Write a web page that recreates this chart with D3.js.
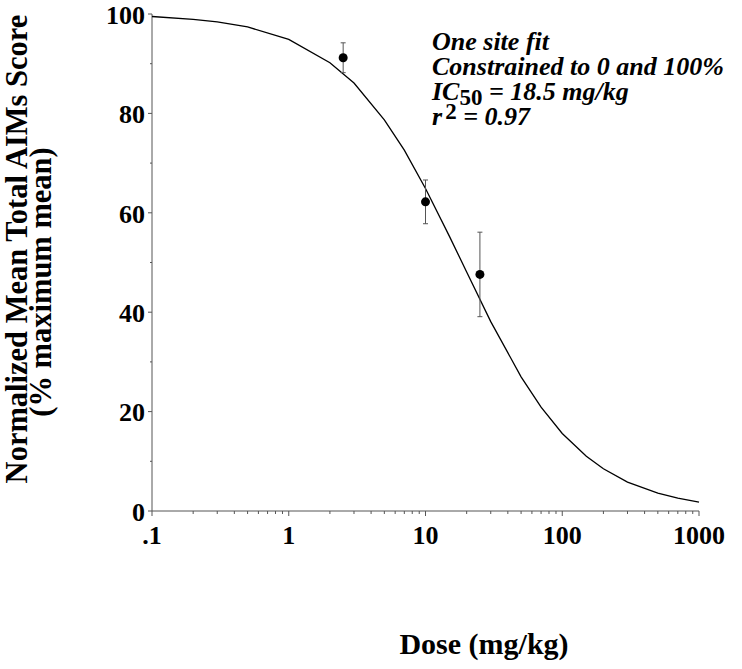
<!DOCTYPE html>
<html>
<head>
<meta charset="utf-8">
<script src="https://cdn.jsdelivr.net/npm/d3@7"></script>
<style>
  body { margin: 0; background: #fff; }
  text { font-family: "Liberation Serif", "Times New Roman", Times, serif; }
</style>
</head>
<body>
<svg width="742" height="669"></svg>
<script>
// measured points (dose mg/kg, % of max mean, SEM)
const doses = [2.5, 10, 25]
const means = [91.2, 62.2, 47.6]
const errs = [3.0, 4.4, 8.5]

// fitted curve as drawn
const curveDoses = [0.1, 0.2, 0.3, 0.5, 1, 2, 3, 5, 7, 10, 15, 20, 30, 50, 70, 100, 150, 200, 300, 500, 700, 1000]
const curveVals = [99.5, 98.9, 98.4, 97.4, 94.9, 90.2, 86.1, 78.7, 72.6, 64.9, 55.2, 48.1, 38.1, 27.0, 20.9, 15.6, 11.0, 8.5, 5.8, 3.6, 2.6, 1.8]

const xTicks = [0.1, 1, 10, 100, 1000]
const xTickLabels = [".1", "1", "10", "100", "1000"]
const yTicks = [0, 20, 40, 60, 80, 100]
const yMinor = [10, 30, 50, 70, 90]

const notes = ["One site fit", "Constrained to 0 and 100%", "IC|50| = 18.5 mg/kg", "r|2| = 0.97"]

const FONT = "Liberation Serif"

const svg = d3.select("svg"),
    margin = {top: 14, left: 152, right: 43, bottom: 158},
    width = +svg.attr("width") - margin.left - margin.right,
    height = +svg.attr("height") - margin.top - margin.bottom

const x = d3.scaleLog().domain([0.1, 1000]).range([0, width])
const y = d3.scaleLinear().domain([0, 100]).range([height, 0])

const g = svg.append("g")
  .attr("transform", "translate(" + margin.left + "," + margin.top + ")")

// minor x ticks 2..9 per decade
const xMinor = []
for (let d = 0.1; d < 1000; d *= 10)
  for (let k = 2; k <= 9; k++) xMinor.push(+(d * k).toPrecision(3))

const axisColor = "#555"

// X axis
g.append("line")
  .attr("x1", 0).attr("x2", width)
  .attr("y1", height).attr("y2", height)
  .attr("stroke", axisColor)
g.selectAll(".xminor").data(xMinor).enter().append("line")
  .attr("x1", d => x(d)).attr("x2", d => x(d))
  .attr("y1", height).attr("y2", height + 3)
  .attr("stroke", axisColor)
g.selectAll(".xmajor").data(xTicks).enter().append("line")
  .attr("x1", d => x(d)).attr("x2", d => x(d))
  .attr("y1", height).attr("y2", height + 5)
  .attr("stroke", axisColor)
g.selectAll(".xlab").data(xTicks).enter().append("text")
  .attr("x", d => x(d))
  .attr("y", height + 33)
  .attr("text-anchor", "middle")
  .attr("font-family", FONT)
  .attr("font-size", 26)
  .attr("font-weight", "bold")
  .text((d, i) => xTickLabels[i])

// Y axis
g.append("line")
  .attr("x1", 0).attr("x2", 0)
  .attr("y1", 0).attr("y2", height)
  .attr("stroke", axisColor)
g.selectAll(".ymajor").data(yTicks).enter().append("line")
  .attr("x1", -4).attr("x2", 0)
  .attr("y1", d => y(d)).attr("y2", d => y(d))
  .attr("stroke", axisColor)
g.selectAll(".yminor").data(yMinor).enter().append("line")
  .attr("x1", -2).attr("x2", 0)
  .attr("y1", d => y(d)).attr("y2", d => y(d))
  .attr("stroke", axisColor)
g.selectAll(".ylab").data(yTicks).enter().append("text")
  .attr("x", -7)
  .attr("y", d => y(d))
  .attr("dy", "0.38em")
  .attr("text-anchor", "end")
  .attr("font-family", FONT)
  .attr("font-size", 26)
  .attr("font-weight", "bold")
  .text(d => d)

// fitted curve
const line = d3.line()
  .x(d => x(d[0]))
  .y(d => y(d[1]))
g.append("path")
  .datum(curveDoses.map((d, i) => [d, curveVals[i]]))
  .attr("fill", "none")
  .attr("stroke", "#000")
  .attr("stroke-width", 1.3)
  .attr("d", line)

// error bars
const pts = doses.map((d, i) => ({dose: d, mean: means[i], err: errs[i]}))
const eb = g.selectAll(".eb").data(pts).enter().append("g")
eb.append("line")
  .attr("x1", d => x(d.dose)).attr("x2", d => x(d.dose))
  .attr("y1", d => y(d.mean + d.err)).attr("y2", d => y(d.mean - d.err))
  .attr("stroke", "#555")
eb.append("line")
  .attr("x1", d => x(d.dose) - 2.5).attr("x2", d => x(d.dose) + 2.5)
  .attr("y1", d => y(d.mean + d.err)).attr("y2", d => y(d.mean + d.err))
  .attr("stroke", "#555")
eb.append("line")
  .attr("x1", d => x(d.dose) - 2.5).attr("x2", d => x(d.dose) + 2.5)
  .attr("y1", d => y(d.mean - d.err)).attr("y2", d => y(d.mean - d.err))
  .attr("stroke", "#555")
eb.append("circle")
  .attr("cx", d => x(d.dose))
  .attr("cy", d => y(d.mean))
  .attr("r", 4.5)
  .attr("fill", "#000")

// annotation
const note = svg.append("text")
  .attr("font-family", FONT)
  .attr("font-size", 26)
  .attr("font-weight", "bold")
  .attr("font-style", "italic")
notes.forEach((s, i) => {
  const t = note.append("tspan").attr("x", 432).attr("y", 50 + i * 25)
  const parts = s.split("|")
  t.append("tspan").text(parts[0])
  if (parts.length > 1) {
    const sub = i === 2
    t.append("tspan")
      .attr("dy", sub ? 5 : -6)
      .attr("dx", sub ? 0 : 3)
      .attr("font-style", "normal")
      .attr("font-size", 23)
      .text(parts[1])
    t.append("tspan").attr("dy", sub ? -5 : 6).text(parts[2])
  }
})

// axis titles
svg.append("text")
  .attr("x", 484)
  .attr("y", 654)
  .attr("text-anchor", "middle")
  .attr("font-family", FONT)
  .attr("font-size", 30)
  .attr("font-weight", "bold")
  .text("Dose (mg/kg)")

const yt = svg.append("g")
  .attr("font-family", FONT)
  .attr("font-size", 30.5)
  .attr("font-weight", "bold")
yt.append("text")
  .attr("transform", "translate(27,249) rotate(-90)")
  .attr("text-anchor", "middle")
  .text("Normalized Mean Total AIMs Score")
yt.append("text")
  .attr("transform", "translate(51,282) rotate(-90)")
  .attr("text-anchor", "middle")
  .text("(% maximum mean)")
</script>
</body>
</html>
